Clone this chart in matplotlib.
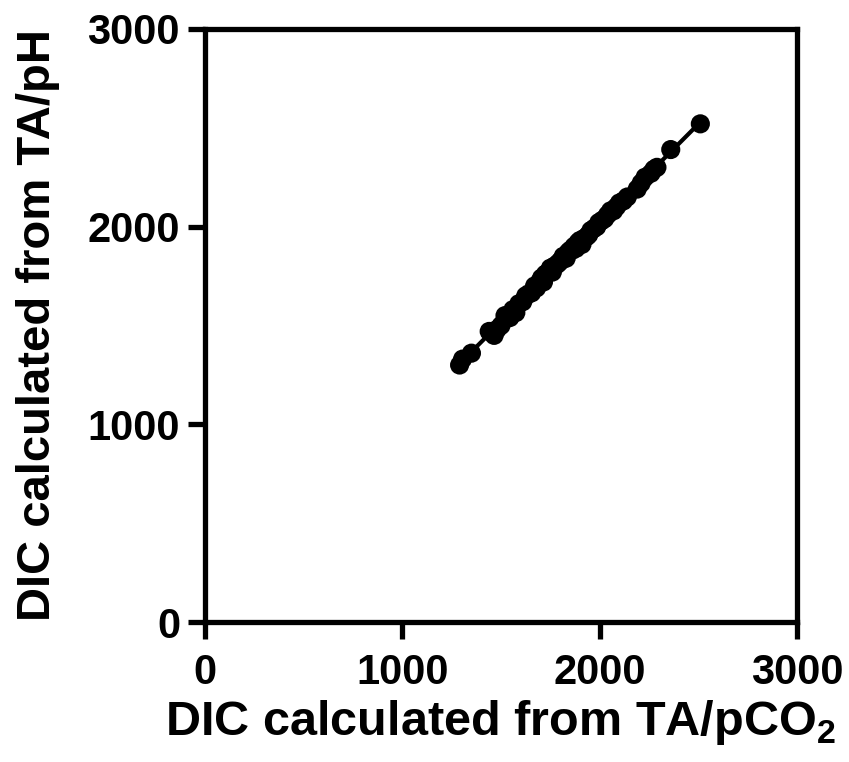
import numpy as np
import matplotlib
matplotlib.use("Agg")
import matplotlib.pyplot as plt

# DIC from TA/pCO2 (x) vs DIC from TA/pH (y)
dic_pco2 = [1290, 1305, 1350, 1440, 1465, 1480, 1500, 1520, 1545, 1560,
            1575, 1590, 1610, 1625, 1640, 1655, 1670, 1680, 1695, 1705,
            1715, 1725, 1740, 1750, 1760, 1770, 1785, 1795, 1805, 1815,
            1830, 1840, 1850, 1860, 1870, 1880, 1890, 1900, 1910, 1920,
            1935, 1945, 1955, 1970, 1985, 1995, 2010, 2025, 2040, 2055,
            2070, 2085, 2100, 2120, 2140, 2190, 2210, 2230, 2260, 2275,
            2290, 2360, 2510]
dic_ph = [1300, 1330, 1360, 1470, 1450, 1480, 1500, 1550, 1540, 1580,
          1565, 1610, 1620, 1650, 1660, 1665, 1700, 1690, 1720, 1740,
          1720, 1760, 1770, 1790, 1770, 1800, 1810, 1820, 1830, 1850,
          1840, 1870, 1880, 1880, 1900, 1890, 1920, 1930, 1910, 1940,
          1950, 1960, 1980, 1990, 2000, 2020, 2030, 2040, 2060, 2080,
          2080, 2100, 2120, 2130, 2150, 2190, 2220, 2250, 2270, 2290,
          2300, 2390, 2520]
ticks = [0, 1000, 2000, 3000]

plt.rcParams['font.family'] = ['Liberation Sans', 'DejaVu Sans']
plt.rcParams['font.weight'] = 'bold'
plt.rcParams['mathtext.fontset'] = 'custom'
plt.rcParams['mathtext.rm'] = 'Liberation Sans:bold'
plt.rcParams['mathtext.bf'] = 'Liberation Sans:bold'

fig = plt.figure(figsize=(8.49, 7.62), dpi=100)
ax = fig.add_axes([0.2415, 0.1837, 0.6973, 0.7783])

x = np.array(dic_pco2)
y = np.array(dic_ph)

# linear fit drawn over the data range
slope, intercept = np.polyfit(x, y, 1)
xl = np.array([x.min(), x.max()])
ax.plot(xl, slope * xl + intercept, color='black', lw=3, zorder=2)
ax.scatter(x, y, s=190, color='black', edgecolors='none', zorder=3)

ax.set_xlim(0, 3000)
ax.set_ylim(0, 3000)
ax.set_xticks(ticks)
ax.set_yticks(ticks)

for sp in ax.spines.values():
    sp.set_linewidth(3.8)
ax.tick_params(axis='both', direction='out', length=12, width=3.8,
               labelsize=30)
ax.tick_params(axis='x', pad=10)
ax.tick_params(axis='y', pad=6)

ax.set_xlabel('DIC calculated from TA/pCO$_2$', fontsize=35,
              fontweight='bold', labelpad=4)
ax.set_ylabel('DIC calculated from TA/pH', fontsize=34,
              fontweight='bold', labelpad=20)

fig.savefig('out.png', dpi=100)
